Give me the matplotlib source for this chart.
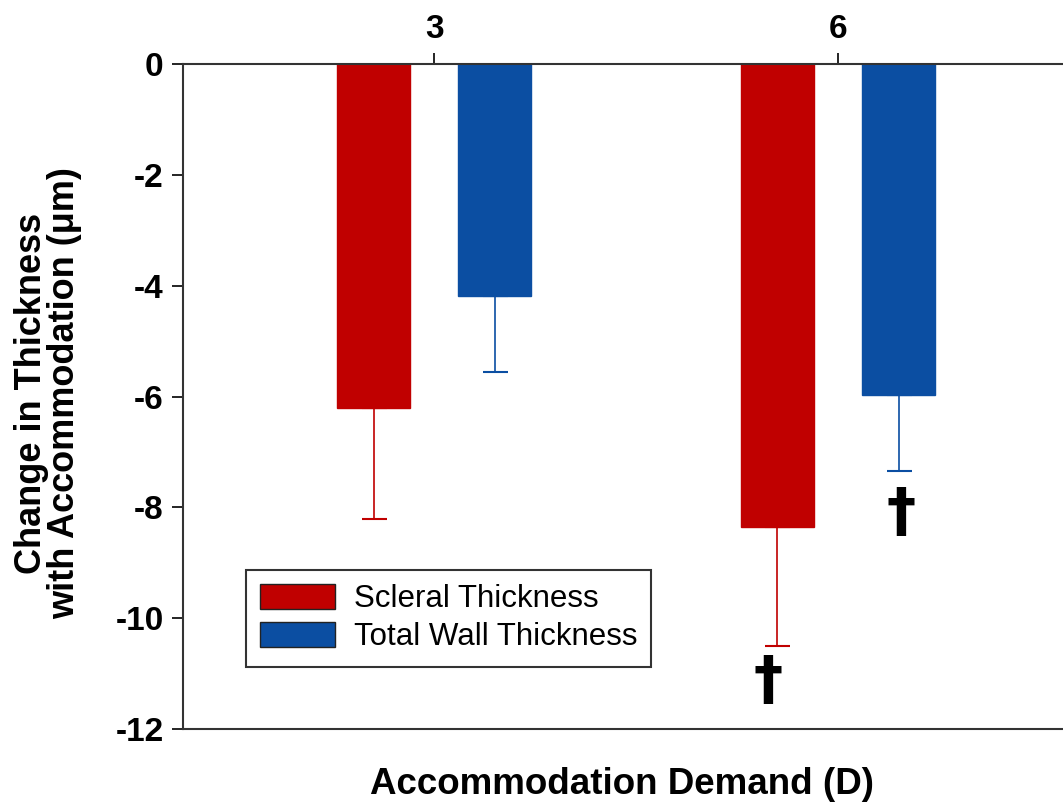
import matplotlib
matplotlib.use("Agg")
import matplotlib.pyplot as plt
import numpy as np

demands = [3, 6]
tick_labels = ["3", "6"]
scleral = [-6.21, -8.36]
scleral_err = [2.0, 2.15]
total_wall = [-4.19, -5.97]
total_wall_err = [1.37, 1.38]
series_names = ["Scleral Thickness", "Total Wall Thickness"]
dagger_x = [5.48, 6.47]
dagger_y = [-11.14, -8.12]

FAM = ['Liberation Sans', 'DejaVu Sans']
plt.rcParams['font.family'] = FAM

red = "#C00000"
blue = "#0B4EA2"

fig = plt.figure(figsize=(10.63, 8.09), dpi=100)
ax = fig.add_axes([183/1063, 1-729/809, 1-183/1063+0.01, (729-64)/809])

x = np.array(demands, dtype=float)
w = 0.545
off = 0.45
ax.bar(x - off, scleral, width=w, color=red, edgecolor=red, label=series_names[0], zorder=2)
ax.bar(x + off, total_wall, width=w, color=blue, edgecolor=blue, label=series_names[1], zorder=2)
ax.errorbar(x - off, scleral, yerr=[scleral_err, [0, 0]], fmt='none', ecolor=red,
            elinewidth=1.2, capsize=9, capthick=1.5, zorder=1)
ax.errorbar(x + off, total_wall, yerr=[total_wall_err, [0, 0]], fmt='none', ecolor=blue,
            elinewidth=1.2, capsize=9, capthick=1.5, zorder=1)

for dx, dy in zip(dagger_x, dagger_y):
    ax.text(dx, dy, "\u2020", ha='center', va='center', fontsize=42, fontweight='bold',
            family=['DejaVu Sans'])

ax.set_xlim(1.134, 7.75)
ax.set_ylim(-12, 0)
ax.set_yticks([0, -2, -4, -6, -8, -10, -12])
ax.set_yticklabels(["0", "-2", "-4", "-6", "-8", "-10", "-12"])
ax.xaxis.tick_top()
ax.set_xticks(demands)
ax.set_xticklabels(tick_labels)
ax.tick_params(axis='x', which='both', direction='out', length=8, width=1.2, labelsize=24, pad=6)
ax.tick_params(axis='y', direction='out', length=8, width=1.2, labelsize=24, pad=6)
for lab in ax.get_xticklabels() + ax.get_yticklabels():
    lab.set_fontweight('bold')
for s in ['left', 'top', 'bottom']:
    ax.spines[s].set_linewidth(1.5)
    ax.spines[s].set_color('#333333')
ax.spines['right'].set_visible(False)

fig.text(622/1063, 1-785/809, "Accommodation Demand (D)", ha='center', va='center',
         fontsize=26.5, fontweight='bold')
fig.text(48/1063, 1-393/809, "Change in Thickness\nwith Accommodation (\u03bcm)", ha='center', va='center',
         rotation=90, fontsize=26, fontweight='bold', linespacing=0.95)

leg = ax.legend(loc='upper left', bbox_to_anchor=((245-183)/880, (729-570)/665),
                fontsize=22.5, frameon=True, fancybox=False, edgecolor='black',
                handlelength=2.4, handleheight=0.85, borderpad=0.45, labelspacing=0.25,
                handletextpad=0.6, borderaxespad=0)
leg.get_frame().set_linewidth(1.5)
for h in leg.legend_handles:
    h.set_edgecolor('#222222')
    h.set_linewidth(1.0)

fig.savefig("out.png", dpi=100)
